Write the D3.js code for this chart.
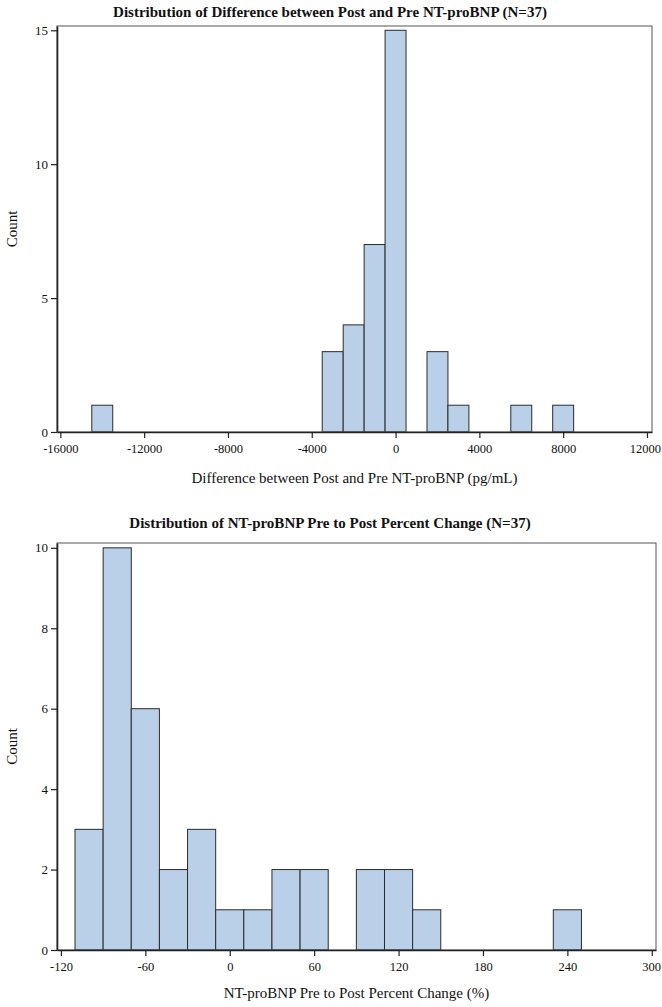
<!DOCTYPE html>
<html>
<head>
<meta charset="utf-8">
<script src="https://cdn.jsdelivr.net/npm/d3@7"></script>
<style>
  html, body { margin: 0; padding: 0; background: #fff; }
  svg { display: block; }
  text { font-family: "Liberation Serif", "Times New Roman", serif; fill: #111; }
</style>
</head>
<body>
<svg id="chart" width="662" height="1007"></svg>
<script>
// ---- Data: top histogram (difference Post - Pre, pg/mL) ----
const diffTitle = "Distribution of Difference between Post and Pre NT-proBNP (N=37)";
const diffXLabel = "Difference between Post and Pre NT-proBNP (pg/mL)";
const diffBinCenters = [-14000, -3000, -2000, -1000, 0, 2000, 3000, 6000, 8000];
const diffCounts = [1, 3, 4, 7, 15, 3, 1, 1, 1];
const diffBinWidth = 1000;
const diffXTicks = [-16000, -12000, -8000, -4000, 0, 4000, 8000, 12000];
const diffYTicks = [0, 5, 10, 15];

// ---- Data: bottom histogram (percent change) ----
const pctTitle = "Distribution of NT-proBNP Pre to Post Percent Change (N=37)";
const pctXLabel = "NT-proBNP Pre to Post Percent Change (%)";
const pctBinCenters = [-100, -80, -60, -40, -20, 0, 20, 40, 60, 100, 120, 140, 240];
const pctCounts = [3, 10, 6, 2, 3, 1, 1, 2, 2, 2, 2, 1, 1];
const pctBinWidth = 20;
const pctXTicks = [-120, -60, 0, 60, 120, 180, 240, 300];
const pctYTicks = [0, 2, 4, 6, 8, 10];

const svg = d3.select("#chart");
const BAR_FILL = "#bad0e9";
const BAR_STROKE = "#2b2b2b";
const fmt = d => String(d); // plain hyphen-minus like the reference

function histogram(cfg) {
  const g = svg.append("g");
  const x = d3.scaleLinear().domain(cfg.xDomain).range([cfg.left, cfg.right]);
  const y = d3.scaleLinear().domain(cfg.yDomain).range([cfg.bottom, cfg.top]);

  // bars
  g.selectAll("rect.bar")
    .data(cfg.centers.map((c, i) => ({ c, n: cfg.counts[i] })))
    .enter().append("rect")
    .attr("class", "bar")
    .attr("x", d => x(d.c - cfg.binWidth / 2))
    .attr("width", d => x(d.c + cfg.binWidth / 2) - x(d.c - cfg.binWidth / 2))
    .attr("y", d => y(d.n))
    .attr("height", d => y(0) - y(d.n))
    .attr("fill", BAR_FILL)
    .attr("stroke", BAR_STROKE)
    .attr("stroke-width", 1);

  // frame
  g.append("rect")
    .attr("x", cfg.left).attr("y", cfg.top)
    .attr("width", cfg.right - cfg.left).attr("height", cfg.bottom - cfg.top)
    .attr("fill", "none").attr("stroke", "#555").attr("stroke-width", 1);

  // axes
  const xAxis = d3.axisBottom(x).tickValues(cfg.xTicks).tickSize(6).tickSizeOuter(0)
    .tickFormat(fmt);
  const gx = g.append("g").attr("transform", `translate(0,${cfg.bottom})`).call(xAxis);
  gx.select(".domain").attr("stroke", "#222").attr("stroke-width", 1.6);
  gx.selectAll(".tick line").attr("stroke", "#222").attr("stroke-width", 1.2);
  gx.selectAll(".tick text")
    .attr("y", 12)
    .style("font-family", '"Liberation Serif", "Times New Roman", serif')
    .style("font-size", "12.5px").attr("fill", "#111");
  // keep the right-most label inside the picture
  gx.selectAll(".tick").each(function () {
    const t = d3.select(this);
    const box = this.getBoundingClientRect();
    if (box.right > 661) {
      t.select("text").attr("dx", -(box.right - 661));
    }
  });

  const yAxis = d3.axisLeft(y).tickValues(cfg.yTicks).tickSize(6).tickSizeOuter(0)
    .tickFormat(fmt);
  const gy = g.append("g").attr("transform", `translate(${cfg.left},0)`).call(yAxis);
  gy.select(".domain").attr("stroke", "#222").attr("stroke-width", 1.6);
  gy.selectAll(".tick line").attr("stroke", "#222").attr("stroke-width", 1.2);
  gy.selectAll(".tick text")
    .attr("x", -9)
    .style("font-family", '"Liberation Serif", "Times New Roman", serif')
    .style("font-size", "13px").attr("fill", "#111");

  // title
  svg.append("text")
    .attr("x", cfg.titleX).attr("y", cfg.titleY)
    .attr("text-anchor", "middle")
    .style("font-size", "15px").style("font-weight", "bold")
    .text(cfg.title);

  // x label
  svg.append("text")
    .attr("x", (cfg.left + cfg.right) / 2).attr("y", cfg.xLabelY)
    .attr("text-anchor", "middle")
    .style("font-size", "15px")
    .text(cfg.xLabel);

  // y label
  svg.append("text")
    .attr("transform", `translate(17,${(cfg.top + cfg.bottom) / 2}) rotate(-90)`)
    .attr("text-anchor", "middle")
    .style("font-size", "15px")
    .text("Count");
}

histogram({
  title: diffTitle, xLabel: diffXLabel,
  centers: diffBinCenters, counts: diffCounts, binWidth: diffBinWidth,
  xTicks: diffXTicks, yTicks: diffYTicks,
  xDomain: [-16160, 12240], yDomain: [0, 15.16],
  left: 57, right: 652, top: 26, bottom: 432,
  titleX: 330, titleY: 17, xLabelY: 483
});

histogram({
  title: pctTitle, xLabel: pctXLabel,
  centers: pctBinCenters, counts: pctCounts, binWidth: pctBinWidth,
  xTicks: pctXTicks, yTicks: pctYTicks,
  xDomain: [-122.8, 303], yDomain: [0, 10.12],
  left: 57, right: 656, top: 543, bottom: 950,
  titleX: 330, titleY: 528, xLabelY: 998
});
</script>
</body>
</html>
